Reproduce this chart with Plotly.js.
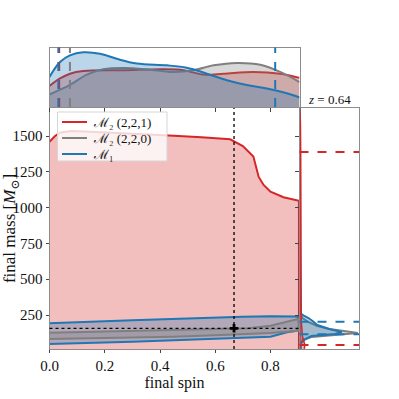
<!DOCTYPE html>
<html>
<head>
<meta charset="utf-8">
<script src="https://cdn.plot.ly/plotly-3.0.1.min.js"></script>
<style>html,body{margin:0;padding:0;background:#fff}#chart{width:399px;height:399px}</style>
</head>
<body>
<div id="chart"></div>
<script>
// ---- data ----
const seriesNames = ["\u2133\u2082 (2,2,1)", "\u2133\u2082 (2,2,0)", "\u2133\u2081"];

// 90% contour of M2 (2,2,1) in (spin, mass)
const redContourSpin = [-0.02, -0.02, 0.0, 0.02, 0.04, 0.08, 0.15, 0.25, 0.35, 0.45, 0.55, 0.62, 0.654, 0.70, 0.738, 0.757, 0.775, 0.80, 0.847, 0.903, 0.903, -0.02];
const redContourMass = [0, 1455, 1460, 1500, 1525, 1535, 1530, 1522, 1512, 1502, 1492, 1483, 1477, 1430, 1356, 1216, 1158, 1111, 1072, 1048, 0, 0];

// contour of M2 (2,2,0)
const grayContourSpin = [-0.02, 0.0, 0.2, 0.4, 0.55, 0.65, 0.72, 0.8, 0.86, 0.9, 0.903, 0.9, 0.8, 0.7, 0.6, 0.45, 0.2, 0.0, -0.02];
const grayContourMass = [125, 126, 134, 142, 148, 153, 158, 175, 200, 222, 180, 140, 125, 115, 108, 99, 88, 82, 81];

// contour of M1
const blueContourSpin = [-0.02, 0.0, 0.1, 0.2, 0.3, 0.4, 0.5, 0.6, 0.7, 0.8, 0.87, 0.895, 0.902, 0.903, 0.9, 0.89, 0.86, 0.8, 0.75, 0.7, 0.6, 0.5, 0.4, 0.3, 0.2, 0.1, 0.0, -0.02];
const blueContourMass = [191, 192, 200, 207, 213, 220, 226, 232, 237, 241, 243, 240, 225, 180, 150, 138, 130, 98, 94, 90, 84, 77, 70, 63, 57, 52, 47, 46];

// spin marginals (top panel)
const blueSpinX = [0, 0.038, 0.074, 0.122, 0.183, 0.243, 0.316, 0.425, 0.497, 0.57, 0.642, 0.714, 0.787, 0.859, 0.905];
const blueSpinY = [0.505, 0.755, 0.867, 0.92, 0.895, 0.81, 0.73, 0.70, 0.66, 0.56, 0.45, 0.37, 0.31, 0.23, 0.16];
const redSpinX = [0, 0.038, 0.074, 0.122, 0.267, 0.41, 0.485, 0.557, 0.63, 0.738, 0.835, 0.905];
const redSpinY = [0.355, 0.48, 0.56, 0.605, 0.617, 0.633, 0.617, 0.545, 0.56, 0.59, 0.56, 0.49];
const graySpinX = [0, 0.074, 0.135, 0.195, 0.267, 0.364, 0.449, 0.521, 0.594, 0.678, 0.763, 0.835, 0.905];
const graySpinY = [0.21, 0.37, 0.545, 0.633, 0.655, 0.628, 0.59, 0.617, 0.70, 0.74, 0.71, 0.59, 0.42];

// mass marginals (right panel)
const blueMassY = [1700, 300, 264, 243, 229, 208, 180, 152, 131, 117, 103, 82, 54, 13];
const blueMassX = [0.0, 0.0, 0.01, 0.08, 0.15, 0.22, 0.3, 0.5, 0.71, 0.6, 0.2, 0.1, 0.03, 0.02];
const grayMassY = [1700, 260, 229, 201, 173, 152, 138, 124, 110, 96, 75, 40, 13];
const grayMassX = [0.0, 0.01, 0.05, 0.15, 0.3, 0.5, 0.75, 0.98, 0.6, 0.2, 0.05, 0.01, 0.01];
const redMassY = [1700, 1600, 1400, 1000, 500, 200, 100, 40, 13];
const redMassX = [0.0, 0.015, 0.02, 0.02, 0.025, 0.03, 0.05, 0.09, 0.08];

// credible-interval bounds
const blueSpinBounds = [0.032, 0.817];
const redSpinBounds = [0.035];
const graySpinBounds = [0.074];
const blueMassBounds = [203, 115];
const redMassBounds = [1388, 40];

// injected values
const truthSpin = 0.668;
const truthMass = 157;

const xTicks = [0, 0.2, 0.4, 0.6, 0.8];
const xTickText = ["0.0", "0.2", "0.4", "0.6", "0.8"];
const yTicks = [250, 500, 750, 1000, 1250, 1500];
const yTickText = ["250", "500", "750", "1000", "1250", "1500"];
const redshiftLabel = "<i>z</i> = 0.64";

// ---- styling ----
const RED = "#d62728", GRAY = "#7f7f7f", BLUE = "#1f77b4";
const RED_F = "rgba(214,39,40,0.3)", GRAY_F = "rgba(127,127,127,0.3)", BLUE_F = "rgba(31,119,180,0.3)";
const FONT = "'Liberation Serif', 'DejaVu Serif', serif";
const seriesColors = [RED, GRAY, BLUE];

const traces = [];
traces.push({x: redContourSpin, y: redContourMass, type: "scatter", mode: "lines", fill: "toself", fillcolor: RED_F, line: {color: RED, width: 2}, xaxis: "x", yaxis: "y", showlegend: false, hoverinfo: "skip"});
traces.push({x: blueContourSpin, y: blueContourMass, type: "scatter", mode: "lines", fill: "toself", fillcolor: BLUE_F, line: {color: BLUE, width: 2}, xaxis: "x", yaxis: "y", showlegend: false, hoverinfo: "skip"});
traces.push({x: grayContourSpin, y: grayContourMass, type: "scatter", mode: "lines", fill: "toself", fillcolor: GRAY_F, line: {color: GRAY, width: 2}, xaxis: "x", yaxis: "y", showlegend: false, hoverinfo: "skip"});
traces.push({x: [truthSpin], y: [truthMass], type: "scatter", mode: "markers", marker: {symbol: "cross", size: 7, color: "black"}, xaxis: "x", yaxis: "y", showlegend: false});

traces.push({x: redSpinX, y: redSpinY, type: "scatter", mode: "lines", line: {color: RED, width: 2, shape: "spline"}, fill: "tozeroy", fillcolor: RED_F, xaxis: "x2", yaxis: "y2", showlegend: false});
traces.push({x: graySpinX, y: graySpinY, type: "scatter", mode: "lines", line: {color: GRAY, width: 2, shape: "spline"}, fill: "tozeroy", fillcolor: GRAY_F, xaxis: "x2", yaxis: "y2", showlegend: false});
traces.push({x: blueSpinX, y: blueSpinY, type: "scatter", mode: "lines", line: {color: BLUE, width: 2, shape: "spline"}, fill: "tozeroy", fillcolor: BLUE_F, xaxis: "x2", yaxis: "y2", showlegend: false});

traces.push({x: grayMassX, y: grayMassY, type: "scatter", mode: "lines", line: {color: GRAY, width: 2}, fill: "tozerox", fillcolor: GRAY_F, xaxis: "x3", yaxis: "y3", showlegend: false});
traces.push({x: blueMassX, y: blueMassY, type: "scatter", mode: "lines", line: {color: BLUE, width: 2}, fill: "tozerox", fillcolor: BLUE_F, xaxis: "x3", yaxis: "y3", showlegend: false});
traces.push({x: redMassX, y: redMassY, type: "scatter", mode: "lines", line: {color: RED, width: 1.5}, fill: "tozerox", fillcolor: RED_F, xaxis: "x3", yaxis: "y3", showlegend: false});

const W = 399;
const px = v => v / W;
const py = v => 1 - v / W;

const shapes = [];
shapes.push({type: "line", xref: "x", yref: "y domain", x0: truthSpin, x1: truthSpin, y0: 0, y1: 1, line: {color: "black", width: 1.3, dash: "dot"}});
shapes.push({type: "line", xref: "x domain", yref: "y", x0: 0, x1: 1, y0: truthMass, y1: truthMass, line: {color: "black", width: 1.3, dash: "dot"}});
const vline = (v, c) => ({type: "line", xref: "x2", yref: "y2 domain", x0: v, x1: v, y0: 0, y1: 1, line: {color: c, width: 2, dash: "dash"}});
graySpinBounds.forEach(v => shapes.push(vline(v, GRAY)));
redSpinBounds.forEach(v => shapes.push(vline(v, RED)));
blueSpinBounds.forEach(v => shapes.push(vline(v, BLUE)));
const hline = (v, c) => ({type: "line", xref: "x3 domain", yref: "y3", x0: 0, x1: 1, y0: v, y1: v, line: {color: c, width: 2, dash: "dash"}});
redMassBounds.forEach(v => shapes.push(hline(v, RED)));
blueMassBounds.forEach(v => shapes.push(hline(v, BLUE)));

// legend box drawn by hand (matplotlib-like compact legend)
const annotations = [];
shapes.push({type: "rect", xref: "paper", yref: "paper", x0: px(57.5), x1: px(167), y0: py(161), y1: py(112), fillcolor: "rgba(255,255,255,0.8)", line: {color: "#d5d5d5", width: 1}, layer: "above"});
const rowY = [122, 138, 154];
seriesNames.forEach((name, i) => {
  shapes.push({type: "line", xref: "paper", yref: "paper", x0: px(62), x1: px(87), y0: py(rowY[i]), y1: py(rowY[i]), line: {color: seriesColors[i], width: 2}, layer: "above"});
  annotations.push({text: name, xref: "paper", yref: "paper", x: px(91), y: py(rowY[i]), xanchor: "left", yanchor: "middle", showarrow: false, font: {family: FONT, size: 13, color: "#111"}});
});
annotations.push({text: redshiftLabel, xref: "paper", yref: "paper", x: px(329), y: py(99), xanchor: "center", yanchor: "middle", showarrow: false, font: {family: FONT, size: 13, color: "#111"}});

const axisLine = {showline: true, linecolor: "#8c8c8c", linewidth: 1, mirror: true, showgrid: false, zeroline: false};
const tickFont = {family: FONT, size: 15, color: "#111"};

const layout = {
  width: 399, height: 399,
  margin: {l: 0, r: 0, t: 0, b: 0},
  paper_bgcolor: "white", plot_bgcolor: "white",
  font: {family: FONT, size: 13, color: "#111"},
  showlegend: false,
  xaxis: Object.assign({}, axisLine, {domain: [px(49.5), px(299.5)], range: [0, 0.905], anchor: "y", tickvals: xTicks, ticktext: xTickText, ticks: "outside", ticklen: 3, tickcolor: "#444", tickfont: tickFont, title: {text: "final spin", font: {family: FONT, size: 16, color: "#111"}, standoff: 2}}),
  yaxis: Object.assign({}, axisLine, {domain: [py(349), py(108)], range: [12.6, 1695.5], anchor: "x", tickvals: yTicks, ticktext: yTickText, ticks: "outside", ticklen: 3, tickcolor: "#444", tickfont: tickFont, title: {text: "final mass [<i>M</i><sub>\u2299</sub>]", font: {family: FONT, size: 17, color: "#111"}, standoff: 5}}),
  xaxis2: Object.assign({}, axisLine, {domain: [px(49.5), px(299.5)], matches: "x", anchor: "y2", showticklabels: false, ticks: "outside", ticklen: 4, tickcolor: "#444", tickvals: xTicks}),
  yaxis2: Object.assign({}, axisLine, {domain: [py(107), py(47.5)], range: [0, 1], anchor: "x2", showticklabels: false, ticks: ""}),
  xaxis3: Object.assign({}, axisLine, {domain: [px(299.5), px(359)], range: [0, 1], anchor: "y3", showticklabels: false, ticks: ""}),
  yaxis3: Object.assign({}, axisLine, {domain: [py(349), py(108)], matches: "y", anchor: "x3", showticklabels: false, ticks: "outside", ticklen: 4, tickcolor: "#444", tickvals: yTicks}),
  shapes: shapes,
  annotations: annotations
};

Plotly.newPlot("chart", traces, layout, {staticPlot: true, displayModeBar: false});
</script>
</body>
</html>
